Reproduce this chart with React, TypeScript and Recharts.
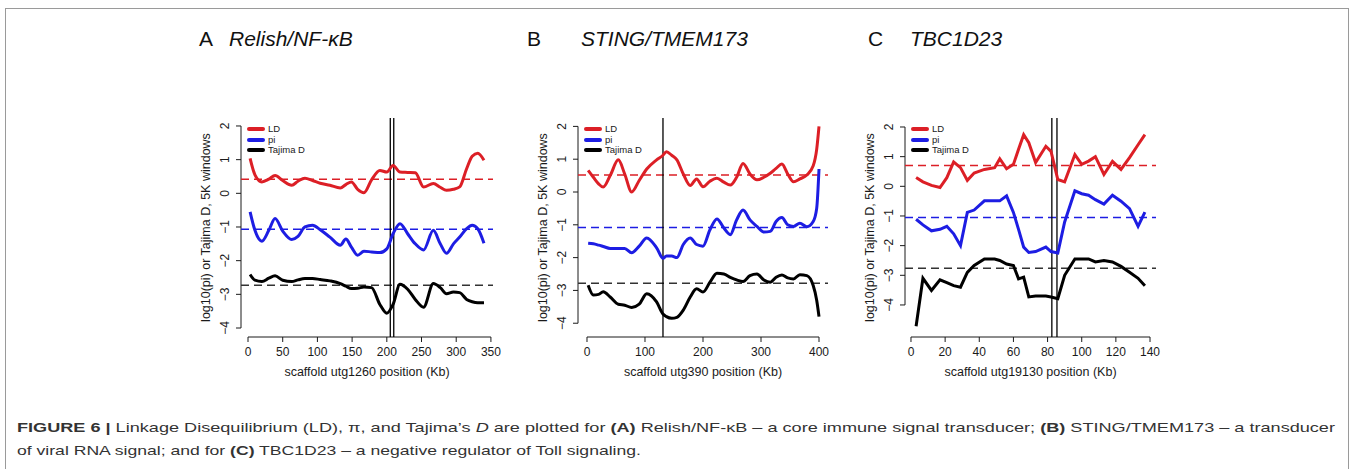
import React from "react"
import { LineChart, Line, XAxis, YAxis, ReferenceLine, Legend } from "recharts"

const FONT = "'Liberation Sans', Arial, Helvetica, sans-serif"
const RED = "#dc1f26"
const BLUE = "#1d1de3"
const BLACK = "#000000"
const INK = "#1a1a1a"

// A: Relish/NF-kB, scaffold utg1260
const relishKb = [3, 10, 20, 30, 39, 50, 63, 72, 82, 93, 104, 118, 133, 141, 149, 158, 167, 178, 190, 200, 209, 219, 230, 241, 253, 267, 277, 286, 296, 305, 315, 323, 331, 340]
const relishLD = [1.04, 0.55, 0.34, 0.42, 0.53, 0.38, 0.24, 0.36, 0.45, 0.38, 0.3, 0.24, 0.16, 0.26, 0.34, 0.12, 0.02, 0.4, 0.68, 0.63, 0.83, 0.63, 0.62, 0.61, 0.19, 0.29, 0.18, 0.09, 0.12, 0.19, 0.73, 1.1, 1.19, 0.98]
const relishPi = [-0.55, -1.1, -1.42, -1.1, -0.75, -1.12, -1.37, -1.28, -1.0, -0.95, -1.08, -1.3, -1.54, -1.36, -1.6, -1.84, -1.72, -1.74, -1.76, -1.65, -1.2, -0.9, -1.2, -1.5, -1.68, -1.1, -1.5, -1.78, -1.5, -1.3, -1.05, -0.95, -1.05, -1.48]
const relishTajima = [-2.41, -2.58, -2.62, -2.52, -2.45, -2.58, -2.62, -2.57, -2.53, -2.53, -2.56, -2.6, -2.68, -2.76, -2.83, -2.82, -2.78, -2.8, -3.3, -3.56, -3.3, -2.7, -2.85, -3.15, -3.38, -2.68, -2.8, -2.98, -2.93, -2.95, -3.15, -3.22, -3.25, -3.25]
const relishMeans = [0.42, -1.07, -2.73] // LD, pi, Tajima D
const relishMarkers = [205, 210]
const relishTicks = [0, 50, 100, 150, 200, 250, 300, 350]

// B: STING/TMEM173, scaffold utg390
const stingKb = [2, 11, 20, 28, 40, 54, 65, 77, 90, 103, 120, 131, 137, 146, 155, 166, 178, 189, 200, 212, 224, 236, 247, 258, 269, 281, 293, 305, 316, 326, 336, 346, 356, 367, 379, 390, 396, 400]
const stingLD = [0.66, 0.45, 0.25, 0.15, 0.5, 0.98, 0.55, 0.0, 0.35, 0.7, 0.98, 1.12, 1.23, 1.12, 0.98, 0.55, 0.2, 0.4, 0.16, 0.33, 0.42, 0.3, 0.21, 0.45, 0.87, 0.55, 0.37, 0.45, 0.57, 0.72, 0.85, 0.55, 0.31, 0.4, 0.52, 0.8, 1.3, 2.0]
const stingPi = [-1.56, -1.58, -1.62, -1.66, -1.72, -1.72, -1.72, -1.85, -1.65, -1.4, -1.7, -2.02, -1.95, -1.95, -2.0, -1.6, -1.4, -1.6, -1.65, -1.15, -0.82, -1.1, -1.3, -0.85, -0.55, -0.85, -1.05, -1.22, -1.2, -0.9, -0.78, -1.0, -1.05, -0.95, -1.06, -0.9, -0.5, 0.7]
const stingTajima = [-2.84, -3.14, -3.12, -3.04, -3.2, -3.42, -3.45, -3.52, -3.42, -3.1, -3.35, -3.72, -3.8, -3.85, -3.82, -3.6, -3.2, -2.95, -3.05, -2.75, -2.48, -2.5, -2.6, -2.68, -2.73, -2.55, -2.5, -2.68, -2.75, -2.6, -2.53, -2.62, -2.65, -2.52, -2.55, -2.85, -3.3, -3.8]
const stingMeans = [0.52, -1.08, -2.78]
const stingMarkers = [131]
const stingTicks = [0, 100, 200, 300, 400]

// C: TBC1D23, scaffold utg19130
const tbcKb = [3, 7, 12, 17, 21, 25, 29, 33, 37, 43, 49, 52, 56, 60, 63, 66, 69, 73, 79, 82, 86, 90, 96, 100, 104, 108, 113, 118, 123, 128, 133, 137]
const tbcLD = [0.3, 0.15, 0.03, -0.04, 0.29, 0.82, 0.63, 0.2, 0.45, 0.57, 0.63, 0.93, 0.59, 0.74, 1.25, 1.74, 1.47, 0.8, 1.35, 1.18, 0.23, 0.15, 1.07, 0.74, 0.85, 1.0, 0.4, 0.84, 0.57, 0.97, 1.4, 1.74]
const tbcPi = [-1.11, -1.3, -1.5, -1.45, -1.35, -1.6, -2.0, -0.88, -0.8, -0.49, -0.49, -0.49, -0.32, -0.88, -1.45, -2.05, -2.23, -2.2, -2.05, -2.2, -2.25, -1.2, -0.15, -0.25, -0.3, -0.45, -0.6, -0.3, -0.5, -0.75, -1.35, -0.87]
const tbcTajima = [-4.72, -3.1, -3.51, -3.15, -3.25, -3.35, -3.4, -2.9, -2.67, -2.45, -2.45, -2.5, -2.62, -2.67, -3.12, -3.06, -3.73, -3.7, -3.7, -3.73, -3.79, -3.0, -2.45, -2.45, -2.45, -2.55, -2.5, -2.55, -2.7, -2.9, -3.1, -3.35]
const tbcMeans = [0.7, -1.05, -2.76]
const tbcMarkers = [82.5, 85.5]
const tbcTicks = [0, 20, 40, 60, 80, 100, 120, 140]

const yTicks = [-4, -3, -2, -1, 0, 1, 2]
const legendItems: [string, string][] = [["LD", RED], ["pi", BLUE], ["Tajima D", BLACK]]

const toRows = (kb: number[], ld: number[], pi: number[], tajima: number[]) =>
  kb.map((k, i) => ({ kb: k, ld: ld[i], pi: pi[i], tajima: tajima[i] }))

const CHART_TOP = 100
const PLOT_TOP = 18
const PLOT_H = 219
const X_AXIS_H = 50
const CHART_H = PLOT_TOP + PLOT_H + X_AXIS_H

const fmt = (v: number) => (v < 0 ? "\u2212" + Math.abs(v) : String(v))

const renderLegend = () => (
  <div style={{ fontFamily: FONT, fontSize: 9.5, color: INK }}>
    {legendItems.map(([name, color]) => (
      <div key={name} style={{ display: "flex", alignItems: "center", height: 10.5 }}>
        <span style={{ display: "inline-block", width: 18, height: 4, background: color, borderRadius: 2, marginRight: 3 }} />
        <span style={{ lineHeight: "10px" }}>{name}</span>
      </div>
    ))}
  </div>
)

function Panel({ rows, left, yw, width, xDomain, yDomain, xTicks, means, markers, curve }: any) {
  const axisY = PLOT_TOP + PLOT_H
  const XTick = ({ x, payload }: any) => (
    <g>
      <line x1={x} x2={x} y1={axisY} y2={axisY + 5} stroke={INK} />
      <text x={x} y={axisY + 19} textAnchor="middle" fontSize={12} fontFamily={FONT} fill={INK}>
        {payload.value}
      </text>
    </g>
  )
  const YTick = ({ y, payload }: any) => (
    <g>
      <line x1={yw} x2={yw - 5} y1={y} y2={y} stroke={INK} />
      <text
        x={yw - 12}
        y={y}
        transform={`rotate(-90 ${yw - 12} ${y})`}
        textAnchor="middle"
        fontSize={12}
        fontFamily={FONT}
        fill={INK}
      >
        {fmt(payload.value)}
      </text>
    </g>
  )
  const lastTick = xTicks[xTicks.length - 1]
  return (
    <div style={{ position: "absolute", left, top: CHART_TOP }}>
      <LineChart width={width} height={CHART_H} data={rows} margin={{ top: PLOT_TOP, right: 10, left: 0, bottom: 0 }}>
        <XAxis
          dataKey="kb"
          type="number"
          domain={xDomain}
          ticks={xTicks}
          interval={0}
          allowDataOverflow
          height={X_AXIS_H}
          axisLine={false}
          tickLine={false}
          tick={XTick}
        />
        <YAxis
          type="number"
          domain={yDomain}
          ticks={yTicks}
          interval={0}
          allowDataOverflow
          width={yw}
          axisLine={false}
          tickLine={false}
          tick={YTick}
        />
        <ReferenceLine
          segment={[{ x: xTicks[0], y: yDomain[0] }, { x: lastTick, y: yDomain[0] }]}
          stroke={INK}
          ifOverflow="visible"
        />
        <ReferenceLine
          segment={[{ x: xDomain[0], y: -4 }, { x: xDomain[0], y: 2 }]}
          stroke={INK}
          ifOverflow="visible"
        />
        <ReferenceLine y={means[0]} stroke={RED} strokeWidth={1.5} strokeDasharray="8 5" />
        <ReferenceLine y={means[1]} stroke={BLUE} strokeWidth={1.5} strokeDasharray="8 5" />
        <ReferenceLine y={means[2]} stroke="#333" strokeWidth={1.5} strokeDasharray="8 5" />
        {markers.map((m: number) => (
          <ReferenceLine key={m} x={m} stroke={BLACK} strokeWidth={1.3} />
        ))}
        <Line dataKey="ld" type={curve} stroke={RED} strokeWidth={3} dot={false} isAnimationActive={false} />
        <Line dataKey="pi" type={curve} stroke={BLUE} strokeWidth={3} dot={false} isAnimationActive={false} />
        <Line dataKey="tajima" type={curve} stroke={BLACK} strokeWidth={3} dot={false} isAnimationActive={false} />
        <Legend
          content={renderLegend}
          layout="horizontal"
          verticalAlign="middle"
          align="center"
          wrapperStyle={{ left: yw + 6, top: 24, width: "auto", height: "auto" }}
        />
      </LineChart>
    </div>
  )
}

const panels = [
  {
    key: "A",
    rows: toRows(relishKb, relishLD, relishPi, relishTajima),
    left: 180, yw: 61, width: 323,
    xDomain: [-10.1, 353], yDomain: [-4.267, 2.237],
    xTicks: relishTicks, means: relishMeans, markers: relishMarkers, curve: "monotone",
    gene: "Relish/NF-\u03baB", letterX: 199, geneX: 229, scaffold: "scaffold utg1260 position (Kb)",
  },
  {
    key: "B",
    rows: toRows(stingKb, stingLD, stingPi, stingTajima),
    left: 520, yw: 58, width: 318,
    xDomain: [-15.5, 415.5], yDomain: [-4.42, 2.256],
    xTicks: stingTicks, means: stingMeans, markers: stingMarkers, curve: "monotone",
    gene: "STING/TMEM173", letterX: 527, geneX: 581, scaffold: "scaffold utg390 position (Kb)",
  },
  {
    key: "C",
    rows: toRows(tbcKb, tbcLD, tbcPi, tbcTajima),
    left: 860, yw: 45, width: 306,
    xDomain: [-3.5, 143.5], yDomain: [-5.08, 2.303],
    xTicks: tbcTicks, means: tbcMeans, markers: tbcMarkers, curve: "linear",
    gene: "TBC1D23", letterX: 868, geneX: 910, scaffold: "scaffold utg19130 position (Kb)",
  },
]

export default function App() {
  return (
    <div style={{ position: "absolute", left: 0, top: 0, width: 1355, height: 469, background: "#fff", fontFamily: FONT }}>
      <svg width={1355} height={469} style={{ position: "absolute", left: 0, top: 0 }} fontFamily={FONT}>
        <rect x={5.5} y={8.5} width={1343} height={470} fill="none" stroke="#9a9a9a" />
        {panels.map((p) => {
          const plotLeft = p.left + p.yw
          const plotRight = p.left + p.width - 10
          const plotMid = CHART_TOP + PLOT_TOP + PLOT_H / 2
          const yTitleX = plotLeft - 31.5
          return (
            <g key={p.key}>
              <text x={p.letterX} y={46} fontSize={21} fill="#111">{p.key}</text>
              <text x={p.geneX} y={46} fontSize={21} fontStyle="italic" fill="#111">{p.gene}</text>
              <text x={(plotLeft + plotRight) / 2} y={376} fontSize={12.5} textAnchor="middle" fill={INK}>
                {p.scaffold}
              </text>
              <text
                x={yTitleX}
                y={plotMid}
                fontSize={12.5}
                textAnchor="middle"
                fill={INK}
                transform={`rotate(-90 ${yTitleX} ${plotMid})`}
              >
                log10(pi) or Tajima D, 5K windows
              </text>
            </g>
          )
        })}
        <text x={17} y={432} fontSize={13.5} fill="#333" textLength={1318} lengthAdjust="spacingAndGlyphs">
          <tspan fontWeight="bold">FIGURE 6 |</tspan> Linkage Disequilibrium (LD), π, and Tajima’s <tspan fontStyle="italic">D</tspan> are plotted for <tspan fontWeight="bold">(A)</tspan> Relish/NF-κB – a core immune signal transducer; <tspan fontWeight="bold">(B)</tspan> STING/TMEM173 – a transducer
        </text>
        <text x={17} y={455} fontSize={13.5} fill="#333" textLength={624} lengthAdjust="spacingAndGlyphs">
          of viral RNA signal; and for <tspan fontWeight="bold">(C)</tspan> TBC1D23 – a negative regulator of Toll signaling.
        </text>
      </svg>
      {panels.map((p) => (
        <Panel key={p.key} {...p} />
      ))}
    </div>
  )
}
